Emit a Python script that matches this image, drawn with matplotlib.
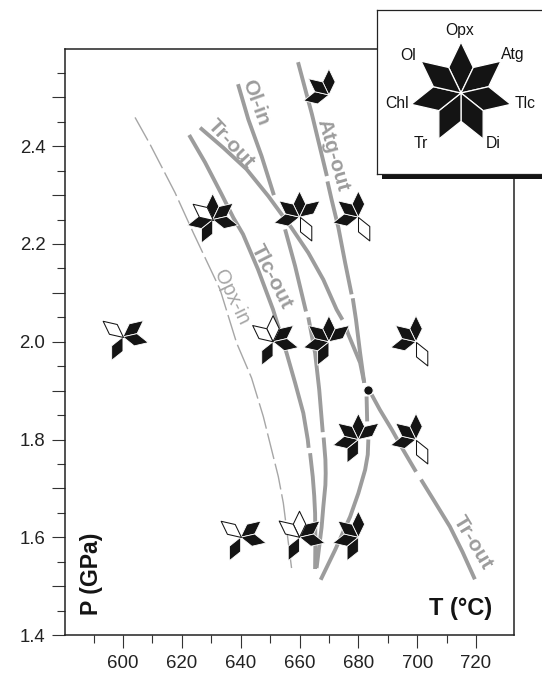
import numpy as np
import matplotlib
matplotlib.use("Agg")
import matplotlib.pyplot as plt
from matplotlib.collections import PolyCollection
from matplotlib.transforms import IdentityTransform
from matplotlib.patches import Rectangle

plt.rcParams['font.family'] = ['Liberation Sans', 'DejaVu Sans']

W, H = 542, 676
AX_L, AX_R, AX_T, AX_B = 65, 514, 48.5, 635

# --- data ---
PHASES = ['Opx', 'Atg', 'Tlc', 'Di', 'Tr', 'Chl', 'Ol']

tlc_out_T = [622.5, 627.9, 633.5, 637.5, 640.8, 645.9, 651.0, 655.6, 658.5, 661.3, 662.8, 663.1, np.nan,
             663.6, 664.5, 665.0, 665.3, 665.4, 665.3]
tlc_out_P = [2.423, 2.367, 2.302, 2.254, 2.220, 2.148, 2.066, 1.977, 1.916, 1.854, 1.800, 1.783, np.nan,
             1.772, 1.724, 1.685, 1.649, 1.590, 1.535]

ol_in_T = [639.1, 642.6, 647.1, 651.3, np.nan, 655.1, 658.5, 662.2, np.nan, 663.0, 665.3, 666.7, 667.9, np.nan,
           668.2, 668.8, 668.9, 668.8, 668.1, 667.5, 666.7, 665.8]
ol_in_P = [2.527, 2.455, 2.380, 2.300, np.nan, 2.230, 2.155, 2.062, np.nan, 2.050, 1.977, 1.902, 1.815, np.nan,
           1.804, 1.759, 1.731, 1.707, 1.663, 1.620, 1.581, 1.537]

atg_out_T = [659.5, 664.2, 669.3, np.nan, 669.5, 670.9, 673.2, 675.5, 677.7, np.nan, 678.1, 679.2, 680.6, 682.0, np.nan,
             682.8, 683.0, np.nan, 683.4, 683.2, 682.3, 680.0, 677.2, 672.1, 667.2]
atg_out_P = [2.572, 2.466, 2.339, np.nan, 2.328, 2.291, 2.234, 2.162, 2.097, np.nan, 2.089, 2.045, 1.977, 1.916, np.nan,
             1.888, 1.837, np.nan, 1.800, 1.769, 1.738, 1.690, 1.642, 1.574, 1.513]

tr_out_T = [626.2, 634.1, 642.0, 649.4, 653.4, 657.3, 663.0, 668.1, 672.6, 674.6, np.nan,
            675.8, 676.6, 680.6, 682.0, np.nan,
            684.5, 687.3, 691.4, 695.2, 699.6, np.nan, 701.3, 705.5, 711.1, 715.4, 719.6]
tr_out_P = [2.438, 2.397, 2.353, 2.298, 2.265, 2.233, 2.182, 2.127, 2.066, 2.045, np.nan,
            2.029, 2.015, 1.957, 1.916, np.nan,
            1.892, 1.861, 1.820, 1.779, 1.734, np.nan, 1.718, 1.677, 1.622, 1.570, 1.514]

opx_in_T = [604.1, 609.2, 617.7, 623.9, 633.0, 638.6, 643.7, 647.7, 652.8, 654.5, 657.3]
opx_in_P = [2.459, 2.404, 2.305, 2.223, 2.107, 1.998, 1.926, 1.847, 1.724, 1.670, 1.537]

star_T = [670, 630.5, 660, 680, 600, 651, 670, 699.6, 680, 699.6, 640, 660, 680]
star_P = [2.505, 2.25, 2.255, 2.255, 2.01, 2.0, 2.0, 2.0, 1.80, 1.80, 1.6, 1.6, 1.6]
star_filled = [['Opx', 'Chl', 'Ol'],
               ['Opx', 'Atg', 'Tlc', 'Tr', 'Chl'],
               ['Opx', 'Atg', 'Chl', 'Ol'],
               ['Opx', 'Chl', 'Ol'],
               ['Atg', 'Tlc', 'Tr'],
               ['Atg', 'Tlc', 'Tr'],
               ['Opx', 'Atg', 'Tr', 'Chl', 'Ol'],
               ['Opx', 'Chl', 'Ol'],
               ['Opx', 'Atg', 'Tr', 'Chl', 'Ol'],
               ['Opx', 'Chl', 'Ol'],
               ['Atg', 'Tlc', 'Tr'],
               ['Atg', 'Tlc', 'Tr'],
               ['Opx', 'Tr', 'Chl', 'Ol']]
star_open = [[], ['Ol'], ['Di'], ['Di'], ['Ol'], ['Opx', 'Ol'], [], ['Di'], [], ['Di'], ['Ol'], ['Opx', 'Ol'], []]

x_major = [600, 620, 640, 660, 680, 700, 720]
x_minor = [590, 610, 630, 650, 670, 690, 710]
y_major = [1.4, 1.5, 1.6, 1.7, 1.8, 1.9, 2.0, 2.1, 2.2, 2.3, 2.4, 2.5]
y_labels = ['1.4', '', '1.6', '', '1.8', '', '2.0', '', '2.2', '', '2.4', '']
y_minor = [1.45, 1.55, 1.65, 1.75, 1.85, 1.95, 2.05, 2.15, 2.25, 2.35, 2.45, 2.55]

GRAY = '#9c9c9c'
BLACK = '#141414'


def petal(name, length):
    a = np.deg2rad(90 - PHASES.index(name) * 360 / 7)
    half = length * 0.5 * np.tan(np.pi / 7)
    u = np.array([np.cos(a), np.sin(a)])
    n = np.array([-u[1], u[0]])
    return [(0, 0), tuple(u * length / 2 + n * half), tuple(u * length), tuple(u * length / 2 - n * half)]


def star(ax, x, y, filled, opened, length, trans, edge, z=5):
    if filled:
        ax.add_collection(PolyCollection([petal(p, length) for p in filled], offsets=[(x, y)],
                                         offset_transform=trans, transform=IdentityTransform(),
                                         facecolors=BLACK, edgecolors='white',
                                         linewidths=edge, zorder=z))
    if opened:
        ax.add_collection(PolyCollection([petal(p, length) for p in opened], offsets=[(x, y)],
                                         offset_transform=trans, transform=IdentityTransform(),
                                         facecolors='white', edgecolors=BLACK,
                                         linewidths=0.75, zorder=z))


fig = plt.figure(figsize=(W / 100, H / 100), dpi=100)
ax = fig.add_axes([AX_L / W, 1 - AX_B / H, (AX_R - AX_L) / W, (AX_B - AX_T) / H])
ax.set_xlim(580.3, 732.9)
ax.set_ylim(1.4, 2.6)

for T, P in [(tlc_out_T, tlc_out_P), (ol_in_T, ol_in_P), (atg_out_T, atg_out_P), (tr_out_T, tr_out_P)]:
    ax.plot(T, P, color=GRAY, lw=2.8, solid_capstyle='butt', solid_joinstyle='round', zorder=2)
ax.plot(opx_in_T, opx_in_P, color='#a6a6a6', lw=1.0, dashes=(19, 3.5), zorder=2)

ax.plot([683.3], [1.902], 'o', ms=6.8, color=BLACK, mec='white', mew=0.8, zorder=4)

for i in range(len(star_T)):
    star(ax, star_T[i], star_P[i], star_filled[i], star_open[i], 26, ax.transData, 0.6)

# curve labels
ax.text(645.0, 2.49, 'Ol-in', rotation=-70, color=GRAY, fontsize=15, fontweight='bold', ha='center', va='center')
ax.text(636.8, 2.405, 'Tr-out', rotation=-47, color=GRAY, fontsize=15, fontweight='bold', ha='center', va='center')
ax.text(671.5, 2.382, 'Atg-out', rotation=-74, color=GRAY, fontsize=15, fontweight='bold', ha='center', va='center')
ax.text(650.6, 2.133, 'Tlc-out', rotation=-63, color=GRAY, fontsize=15, fontweight='bold', ha='center', va='center')
ax.text(637, 2.09, 'Opx-in', rotation=-64, color='#a6a6a6', fontsize=14.4, ha='center', va='center')
ax.text(719, 1.59, 'Tr-out', rotation=-59, color=GRAY, fontsize=15, fontweight='bold', ha='center', va='center')

# axis captions inside plot
ax.text(714.8, 1.455, 'T (°C)', fontsize=17, fontweight='bold', color=BLACK, ha='center', va='center')
ax.text(589.2, 1.525, 'P (GPa)', rotation=90, fontsize=16.6, fontweight='bold', color=BLACK, ha='center', va='center')

ax.set_xticks(x_major)
ax.set_xticks(x_minor, minor=True)
ax.set_yticks(y_major, labels=y_labels)
ax.set_yticks(y_minor, minor=True)
ax.tick_params(axis='both', which='major', length=9.2, width=0.8, color='#333333', labelsize=13.4, labelcolor='#222222')
ax.tick_params(axis='both', which='minor', length=5.8, width=0.8, color='#333333')
ax.tick_params(axis='x', which='major', pad=5)
ax.tick_params(axis='y', which='major', pad=5)
for s in ax.spines.values():
    s.set_linewidth(1.1)
    s.set_color('#222222')

# legend inset
IN_L, IN_R, IN_T, IN_B = 376.5, 545, 9.5, 174
fig.add_artist(Rectangle((382 / W, 1 - 179 / H), (W - 382) / W, 6 / H, transform=fig.transFigure,
                         facecolor=BLACK, edgecolor='none', zorder=9))
inset = fig.add_axes([IN_L / W, 1 - IN_B / H, (IN_R - IN_L) / W, (IN_B - IN_T) / H], zorder=10)
inset.set_xlim(IN_L, IN_R)
inset.set_ylim(IN_B, IN_T)
inset.set_xticks([])
inset.set_yticks([])
for s in inset.spines.values():
    s.set_linewidth(0.9)
    s.set_color('#222222')
star(inset, 461, 93, PHASES, [], 51, inset.transData, 0.9)
label_x = [460, 513, 525, 493, 421, 397, 408]
label_y = [30, 54, 104, 143, 143, 104, 55]
for name, lx, ly in zip(PHASES, label_x, label_y):
    inset.text(lx, ly, name, fontsize=11.3, color=BLACK, ha='center', va='center')

fig.savefig('out.png', dpi=100)
